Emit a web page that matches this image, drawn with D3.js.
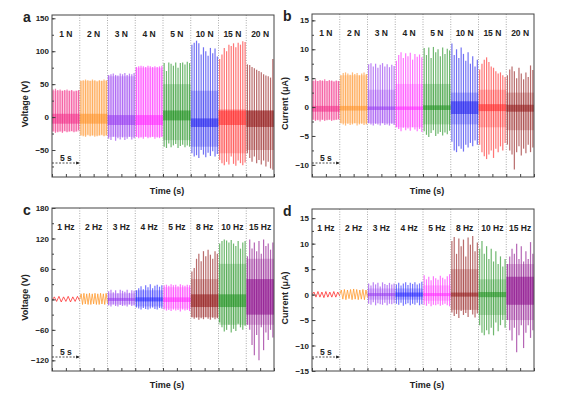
<!DOCTYPE html>
<html>
<head>
<meta charset="utf-8">
<script src="https://cdn.jsdelivr.net/npm/d3@7"></script>
<style>
body { margin: 0; background: #fff; }
text { font-family: "Liberation Sans", Arial, sans-serif; font-weight: bold; fill: #222; }
</style>
</head>
<body>
<svg id="fig" width="573" height="397"></svg>
<script>
// segment labels + colours
var forceLabels = ["1 N", "2 N", "3 N", "4 N", "5 N", "10 N", "15 N", "20 N"];
var forceColors = ["#f2207f", "#ff8c1a", "#8f2cf0", "#ff1aff", "#108a10", "#1414ee", "#ff1a1a", "#8b0a0a"];
var freqLabels  = ["1 Hz", "2 Hz", "3 Hz", "4 Hz", "5 Hz", "8 Hz", "10 Hz", "15 Hz"];
var freqColors  = ["#ff3030", "#ff9a30", "#8f2cf0", "#1a1aff", "#ff1aff", "#8b0a0a", "#108a10", "#850085"];

var yTicksA = [-50, 0, 50, 100, 150];
var yTicksB = [-10, -5, 0, 5, 10, 15];
var yTicksC = [-120, -60, 0, 60, 120, 180];
var yTicksD = [-15, -10, -5, 0, 5, 10, 15];

// a: voltage vs force, peak / trough of each pulse (V)
var peaksA = [
  [42, 43, 41, 42, 40, 41, 42, 40, 41, 39, 40, 41],
  [55, 56, 57, 56, 55, 57, 56, 54, 56, 55, 57, 56],
  [64, 65, 66, 64, 63, 66, 65, 67, 64, 66, 65, 67],
  [76, 77, 78, 77, 76, 78, 77, 76, 77, 76, 77, 78],
  [82, 70, 83, 81, 78, 83, 75, 82, 83, 80, 84, 82],
  [110, 113, 116, 112, 95, 106, 100, 93, 105, 97, 104, 92],
  [88, 95, 105, 100, 110, 108, 112, 106, 113, 110, 115, 114],
  [80, 79, 76, 74, 72, 70, 68, 65, 63, 62, 60, 88]
];
var troughsA = [
  [-22, -24, -23, -22, -24, -21, -23, -22, -21, -23, -22, -20],
  [-28, -29, -30, -27, -29, -28, -30, -29, -28, -27, -29, -28],
  [-33, -35, -30, -36, -32, -34, -31, -35, -33, -30, -34, -32],
  [-30, -32, -31, -33, -30, -32, -31, -30, -33, -31, -32, -30],
  [-45, -47, -40, -46, -43, -41, -47, -44, -42, -46, -43, -45],
  [-55, -60, -58, -62, -50, -57, -61, -54, -59, -52, -60, -56],
  [-65, -70, -73, -68, -72, -60, -71, -74, -66, -70, -73, -69],
  [-55, -62, -68, -60, -70, -65, -72, -66, -75, -68, -78, -80]
];
var coreA = [[-10, 5], [-10, 5], [-12, 3], [-12, 3], [-5, 10], [-15, -2], [-12, 10], [-15, 10]];
var hazeA = [[-22, 40], [-28, 55], [-30, 62], [-30, 75], [-35, 50], [-45, 40], [-55, 12], [-50, 10]];

// b: current vs force (uA)
var peaksB = [
  [4.6, 4.8, 4.5, 4.7, 4.6, 4.8, 4.5, 4.7, 4.6, 4.4, 4.6, 4.5],
  [5.5, 5.9, 6.0, 5.8, 5.6, 6.0, 5.7, 5.9, 5.5, 5.8, 6.0, 5.7],
  [7.4, 7.6, 7.0, 7.5, 6.8, 7.3, 7.6, 7.0, 7.4, 6.9, 7.3, 7.1],
  [8.0, 9.0, 9.5, 8.5, 9.3, 8.8, 9.4, 8.2, 9.2, 8.7, 9.1, 8.6],
  [10.2, 9.0, 10.3, 8.5, 10.4, 9.5, 10.0, 8.8, 10.3, 9.2, 10.1, 9.8],
  [11.0, 9.0, 10.0, 8.5, 10.3, 9.2, 8.0, 9.5, 7.5, 8.8, 7.0, 8.2],
  [6.5, 7.5, 8.2, 8.6, 7.8, 7.0, 6.8, 6.2, 5.8, 6.0, 5.5, 5.2],
  [5.5, 6.5, 7.0, 6.2, 5.0, 6.8, 5.8, 4.8, 6.0, 5.2, 7.2, 6.4]
];
var troughsB = [
  [-2.2, -2.4, -2.3, -2.5, -2.2, -2.4, -2.3, -2.2, -2.4, -2.3, -2.2, -2.1],
  [-2.8, -3.0, -3.2, -2.9, -3.1, -3.0, -2.8, -3.2, -3.0, -2.9, -3.1, -3.0],
  [-2.8, -3.0, -3.2, -2.9, -3.0, -3.2, -2.8, -3.1, -3.0, -3.2, -2.9, -3.1],
  [-3.5, -3.8, -4.2, -3.6, -4.0, -3.7, -4.1, -3.5, -3.9, -4.2, -3.8, -4.3],
  [-4.2, -4.8, -5.2, -4.5, -4.0, -5.0, -4.6, -4.3, -4.9, -4.4, -4.7, -4.1],
  [-6.0, -7.5, -7.8, -6.8, -7.2, -7.7, -6.5, -7.0, -6.2, -6.8, -5.8, -6.5],
  [-6.5, -7.8, -8.5, -9.0, -8.2, -7.5, -8.8, -7.2, -7.8, -6.8, -7.5, -6.2],
  [-6.5, -7.5, -8.2, -10.8, -7.8, -6.8, -8.4, -7.2, -8.0, -6.5, -7.8, -7.0]
];
var coreB = [[-0.8, 0.2], [-0.6, 0.2], [-0.5, 0.1], [-0.5, 0.1], [-0.5, 0.3], [-1.2, 1.0], [-0.7, 0.5], [-0.8, 0.4]];
var hazeB = [[-2.2, 4.5], [-2.8, 5.5], [-2.8, 3], [-3.5, 4], [-3, 4], [-3, 2.5], [-3.5, 3], [-4, 2.5]];

// c: voltage vs frequency (V); 1 Hz and 2 Hz are plain waves
var waveC = [
  [-2, 5, -4, 6, -5, 5, -4, 6, -5, 5, -4, 6, -3],
  [0, 11, -10, 12, -9, 11, -10, 12, -10, 11, -9, 12, -10, 11, -10, 12, -9, 11, -10, 12, -8]
];
var peaksC = [
  null, null,
  [16, 19, 14, 18, 12, 19, 17, 15, 19, 13, 18, 17],
  [18, 22, 26, 20, 28, 24, 30, 22, 27, 29, 25, 28],
  [28, 29, 27, 30, 28, 29, 26, 30, 28, 27, 29, 28],
  [55, 62, 80, 90, 75, 95, 85, 98, 88, 80, 95, 90],
  [110, 115, 118, 116, 112, 117, 110, 105, 115, 100, 112, 115],
  [85, 118, 100, 112, 95, 115, 90, 118, 105, 110, 98, 112]
];
var troughsC = [
  null, null,
  [-12, -14, -10, -13, -14, -11, -13, -12, -14, -10, -13, -12],
  [-16, -18, -20, -17, -19, -20, -18, -16, -19, -20, -17, -18],
  [-20, -22, -21, -23, -20, -22, -21, -24, -20, -22, -21, -23],
  [-35, -38, -36, -40, -37, -39, -35, -38, -40, -36, -39, -37],
  [-45, -55, -63, -60, -50, -65, -58, -62, -48, -55, -60, -52],
  [-50, -60, -90, -110, -70, -120, -55, -100, -65, -80, -60, -75]
];
var coreC = [null, null, [-3, 3], [-4, 4], [-5, 4], [-15, 10], [-15, 10], [-30, 40]];
var hazeC = [null, null, [-10, 12], [-14, 18], [-18, 24], [-35, 40], [-50, 70], [-50, 80]];

// d: current vs frequency (uA)
var waveD = [
  [0, 0.5, -0.5, 0.6, -0.5, 0.5, -0.6, 0.6, -0.5, 0.5, -0.5, 0.6, -0.5, 0.5, -0.3],
  [0, 0.9, -0.9, 1.0, -1.0, 0.9, -0.8, 1.0, -1.0, 1.1, -0.9, 1.0, -1.0, 0.9, -0.9, 1.0, -1.0, 0.9, -0.6]
];
var peaksD = [
  null, null,
  [2.2, 1.8, 2.4, 2.0, 2.3, 1.6, 2.4, 2.1, 1.9, 2.3, 2.0, 2.2],
  [2.0, 2.3, 1.8, 2.2, 2.4, 1.9, 2.3, 2.1, 2.4, 2.0, 2.2, 2.5],
  [3.8, 3.0, 3.5, 2.8, 3.6, 3.2, 2.9, 3.7, 3.3, 3.0, 3.6, 4.0],
  [10.5, 11.3, 8.0, 11.0, 9.5, 10.8, 7.5, 11.2, 9.8, 11.5, 8.5, 10.2],
  [9.0, 10.5, 8.0, 9.5, 7.0, 9.0, 6.5, 8.5, 6.0, 7.5, 5.5, 7.0],
  [6.0, 7.5, 9.0, 8.0, 10.0, 7.0, 9.5, 6.5, 8.5, 7.0, 10.3, 8.0]
];
var troughsD = [
  null, null,
  [-1.8, -2.0, -1.5, -2.1, -1.7, -1.9, -2.0, -1.6, -2.1, -1.8, -1.9, -1.7],
  [-1.8, -2.0, -1.6, -2.2, -1.9, -1.7, -2.1, -1.8, -2.0, -1.6, -2.1, -1.9],
  [-2.0, -2.2, -1.8, -2.3, -2.0, -2.1, -1.9, -2.2, -2.0, -1.8, -2.1, -2.3],
  [-3.5, -4.2, -3.8, -4.6, -3.2, -4.0, -3.6, -4.4, -3.0, -3.9, -4.5, -3.7],
  [-6.0, -7.5, -8.0, -7.0, -7.8, -6.5, -8.0, -5.5, -7.2, -6.0, -5.0, -6.5],
  [-5.0, -7.0, -9.0, -6.5, -11.3, -8.0, -6.0, -10.5, -7.5, -6.0, -8.5, -7.0]
];
var coreD = [null, null, [-0.3, 0.3], [-0.4, 0.4], [-0.3, 0.3], [-0.4, 0.4], [-0.5, 0.5], [-2, 3.5]];
var hazeD = [null, null, [-1, 1.2], [-1, 1.2], [-1.2, 1.8], [-3, 5], [-4, 3], [-5, 6]];

var panels = [
  {id: "a", left: 52, top: 15, right: 274, bottom: 177, ymin: -91, ymax: 155, minor: 25,
   ticks: yTicksA, title: "Voltage (V)", labels: forceLabels, colors: forceColors,
   peaks: peaksA, troughs: troughsA, core: coreA, haze: hazeA, waves: []},
  {id: "b", left: 312, top: 14, right: 534, bottom: 177, ymin: -12.1, ymax: 16.1, minor: 2.5,
   ticks: yTicksB, title: "Current (\u03bcA)", labels: forceLabels, colors: forceColors,
   peaks: peaksB, troughs: troughsB, core: coreB, haze: hazeB, waves: []},
  {id: "c", left: 52, top: 208, right: 274, bottom: 371, ymin: -141, ymax: 180, minor: 30,
   ticks: yTicksC, title: "Voltage (V)", labels: freqLabels, colors: freqColors,
   peaks: peaksC, troughs: troughsC, core: coreC, haze: hazeC, waves: waveC},
  {id: "d", left: 312, top: 209, right: 534, bottom: 371, ymin: -15, ymax: 16.8, minor: 2.5,
   ticks: yTicksD, title: "Current (\u03bcA)", labels: freqLabels, colors: freqColors,
   peaks: peaksD, troughs: troughsD, core: coreD, haze: hazeD, waves: waveD}
];

var segLen = 5, nSeg = 8;
var svg = d3.select("#fig");

// arrow marker for the "5 s" bar
svg.append("defs").append("marker")
  .attr("id", "arr")
  .attr("viewBox", "0 0 10 10")
  .attr("refX", 9).attr("refY", 5)
  .attr("markerWidth", 5).attr("markerHeight", 5)
  .attr("orient", "auto")
  .append("path").attr("d", "M0,1L10,5L0,9Z").attr("fill", "#222");

panels.forEach(function(p) {
  var w = p.right - p.left, h = p.bottom - p.top;
  var x = d3.scaleLinear().domain([0, segLen * nSeg]).range([0, w]);
  var y = d3.scaleLinear().domain([p.ymin, p.ymax]).range([h, 0]);

  var g = svg.append("g").attr("transform", "translate(" + p.left + "," + p.top + ")");

  g.append("clipPath").attr("id", "clip-" + p.id)
    .append("rect").attr("width", w).attr("height", h);
  var marks = g.append("g").attr("clip-path", "url(#clip-" + p.id + ")");

  // segment dividers
  g.selectAll(".div").data(d3.range(1, nSeg)).enter().append("line")
    .attr("x1", d => x(d * segLen)).attr("x2", d => x(d * segLen))
    .attr("y1", 0).attr("y2", h)
    .attr("stroke", "#888").attr("stroke-width", 0.7).attr("stroke-dasharray", "1,1.5");

  // light haze, spikes, dense core
  p.peaks.forEach(function(pk, s) {
    if (!pk) return;
    var col = p.colors[s];
    var band = d3.scaleBand().domain(d3.range(pk.length)).range([s * segLen, (s + 1) * segLen]);
    var hz = p.haze[s];
    marks.append("rect")
      .attr("x", x(s * segLen)).attr("width", x(segLen) - x(0))
      .attr("y", y(hz[1])).attr("height", y(hz[0]) - y(hz[1]))
      .attr("fill", col).attr("opacity", 0.22);
    marks.selectAll(null).data(pk).enter().append("line")
      .attr("x1", (d, i) => x(band(i) + band.bandwidth() / 2))
      .attr("x2", (d, i) => x(band(i) + band.bandwidth() / 2))
      .attr("y1", d => y(d))
      .attr("y2", (d, i) => y(p.troughs[s][i]))
      .attr("stroke", col).attr("stroke-width", 1.2).attr("opacity", 0.6);
    var c = p.core[s];
    marks.append("rect")
      .attr("x", x(s * segLen)).attr("width", x(segLen) - x(0))
      .attr("y", y(c[1])).attr("height", y(c[0]) - y(c[1]))
      .attr("fill", col).attr("opacity", 0.5);
  });

  // low-frequency waves
  p.waves.forEach(function(wv, s) {
    var pt = d3.scalePoint().domain(d3.range(wv.length)).range([s * segLen, (s + 1) * segLen]);
    marks.append("path").datum(wv)
      .attr("d", d3.line().x((d, i) => x(pt(i))).y(d => y(d)))
      .attr("fill", "none").attr("stroke", p.colors[s]).attr("stroke-width", 0.8);
  });

  // segment labels
  g.selectAll(".lab").data(p.labels).enter().append("text")
    .attr("x", (d, i) => x((i + 0.5) * segLen)).attr("y", 22)
    .attr("text-anchor", "middle").attr("font-size", 8.5)
    .text(d => d);

  // y axis, ticks inside
  var minorVals = d3.range(Math.ceil(p.ymin / p.minor) * p.minor, p.ymax, p.minor);
  g.append("g")
    .call(d3.axisLeft(y).tickValues(minorVals).tickSize(-2).tickFormat(""))
    .call(a => a.select(".domain").remove())
    .selectAll("line").attr("stroke", "#444");
  var ya = g.append("g")
    .call(d3.axisLeft(y).tickValues(p.ticks).tickSizeInner(-3.5).tickSizeOuter(0).tickPadding(3))
    .call(a => a.select(".domain").remove());
  ya.selectAll("line").attr("stroke", "#444");
  ya.selectAll("text").attr("font-size", 8).attr("font-family", null).style("fill", "#222");

  // x axis, ticks only
  var xa = g.append("g").attr("transform", "translate(0," + h + ")")
    .call(d3.axisBottom(x).tickValues(d3.range(0, segLen * nSeg + 0.1, 2.5)).tickSize(-3).tickFormat(""))
    .call(a => a.select(".domain").remove());
  xa.selectAll("line").attr("stroke", "#444");

  // frame
  g.append("rect").attr("width", w).attr("height", h)
    .attr("fill", "none").attr("stroke", "#444").attr("stroke-width", 1);

  // 5 s scale bar
  g.append("line")
    .attr("x1", x(0)).attr("x2", x(segLen))
    .attr("y1", h - 14).attr("y2", h - 14)
    .attr("stroke", "#222").attr("stroke-width", 0.8).attr("stroke-dasharray", "2,1.5")
    .attr("marker-end", "url(#arr)");
  g.append("text")
    .attr("x", x(segLen / 2)).attr("y", h - 16.5)
    .attr("text-anchor", "middle").attr("font-size", 8.5).text("5 s");

  // axis titles
  g.append("text")
    .attr("x", w / 2 + 4).attr("y", h + 17)
    .attr("text-anchor", "middle").attr("font-size", 9).text("Time (s)");
  g.append("text")
    .attr("transform", "translate(" + (-24) + "," + (h / 2 + 8) + ") rotate(-90)")
    .attr("text-anchor", "middle").attr("font-size", 9).text(p.title);

  // panel letter
  g.append("text")
    .attr("x", -29).attr("y", 7)
    .attr("font-size", 14).text(p.id);
});
</script>
</body>
</html>
